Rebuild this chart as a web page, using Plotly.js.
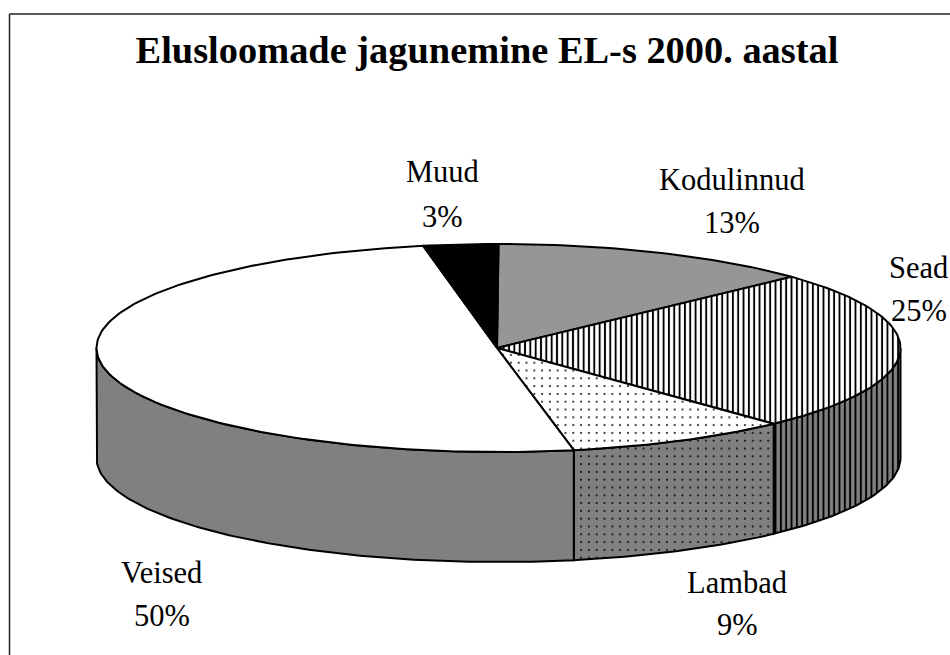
<!DOCTYPE html>
<html><head><meta charset="utf-8">
<script src="https://cdn.plot.ly/plotly-3.0.1.min.js"></script>
<style>html,body{margin:0;padding:0;background:#fff}</style>
</head><body><div id="chart" style="width:950px;height:655px"></div>
<script>
const categories = ['Kodulinnud','Sead','Lambad','Veised','Muud'];
const shares = [13,25,9,50,3];
const topFills = ['#969696','#ffffff','#ffffff','#ffffff','#000000'];
const sideFills = ['#808080','#808080','#808080','#808080','#000000'];
const patterns = ['','|','.','',''];
const labelNameX = [732,918.5,737,161.5,442];
const labelNameY = [180,268,583,573,172];
const labelPctY  = [223,311,625,616,217];

const cx=498.5, cy=348, rx=402, ry=104, depth=110;
const rim=(deg,dy)=>{const t=deg*Math.PI/180;return [cx+rx*Math.sin(t),cy-ry*Math.cos(t)+(dy||0)];};
const arc=(a,b,dy)=>{const n=Math.max(2,Math.ceil(Math.abs(b-a)));const o=[];for(let i=0;i<=n;i++)o.push(rim(a+(b-a)*i/n,dy));return o;};
const pat=(shape,bg)=>shape==='|'?{shape:'|',size:5.33,solidity:0.36,fgcolor:'#000',bgcolor:bg,fillmode:'replace'}
  :shape==='.'?{shape:'.',size:7.8,solidity:0.05,fgcolor:'#000',bgcolor:bg,fillmode:'replace'}:undefined;
const poly=(pts,fill,shape,name)=>{const p=pts.concat([pts[0]]);const t={x:p.map(q=>q[0]),y:p.map(q=>q[1]),mode:'lines',fill:'toself',fillcolor:fill,
  line:{color:'#000',width:2},hoverinfo:'skip',name:name};const f=pat(shape,fill);if(f)t.fillpattern=f;return t;};

const sides=[],tops=[];let acc=0;const total=shares.reduce((a,b)=>a+b,0);
categories.forEach((c,i)=>{
  const a=acc/total*360,b=(acc+shares[i])/total*360;acc+=shares[i];
  const la=Math.max(a,90),lb=Math.min(b,270);
  if(lb>la){sides.push(poly(arc(la,lb,0).concat(arc(lb,la,depth)),sideFills[i],patterns[i],c+' side'));}
  tops.push(poly([[cx-1.5,cy]].concat(arc(a,b,0)),topFills[i],patterns[i],c));
});
const txt=(t,x,y)=>({text:t,x:x,y:y,xref:'x',yref:'y',showarrow:false,xanchor:'center',yanchor:'middle',font:{family:'Liberation Serif',size:30.5,color:'#000'}});
const annotations=[];
categories.forEach((c,i)=>{annotations.push(txt(c,labelNameX[i],labelNameY[i]));annotations.push(txt(shares[i]+'%',labelNameX[i],labelPctY[i]));});
const hidden={visible:false,fixedrange:true};
const layout={width:950,height:655,margin:{l:0,r:0,t:0,b:0},paper_bgcolor:'#fff',plot_bgcolor:'#fff',showlegend:false,
  title:{text:'Elusloomade jagunemine EL-s 2000. aastal',x:0.5126,xanchor:'center',y:0.925,yanchor:'middle',font:{family:'Liberation Serif',size:38.4,color:'#000',weight:700}},
  xaxis:Object.assign({range:[0,950]},hidden),yaxis:Object.assign({range:[655,0]},hidden),annotations:annotations,
  shapes:[{type:'line',x0:9.5,x1:950,y0:14,y1:14,line:{color:'#222',width:1.5}},{type:'line',x0:9.5,x1:9.5,y0:14,y1:655,line:{color:'#222',width:1.5}}]};
Plotly.newPlot('chart',sides.concat(tops),layout,{displayModeBar:false,staticPlot:true});
</script></body></html>
